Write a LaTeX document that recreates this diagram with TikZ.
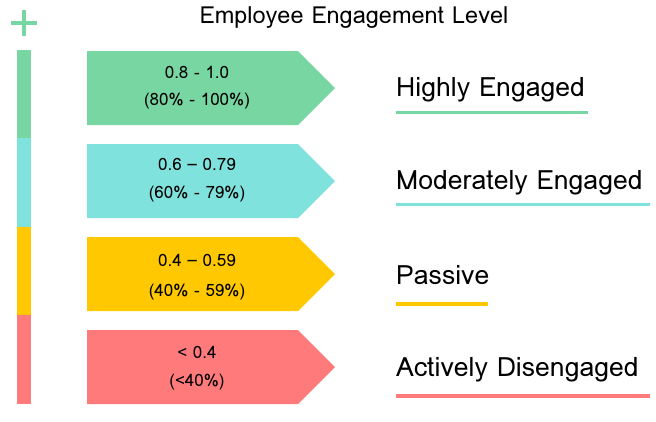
\documentclass[tikz,border=0pt]{standalone}
\usepackage{fontspec}
\setmainfont{Loma}[Script=Latin]
\definecolor{cgreen}{HTML}{78D6A3}
\definecolor{ccyan}{HTML}{80E2DD}
\definecolor{cyellow}{HTML}{FFC800}
\definecolor{cred}{HTML}{FF7B7B}
\begin{document}
\begin{tikzpicture}[x=1pt,y=-1pt,
  rng/.style={font=\fontsize{17}{20}\selectfont, align=center, inner sep=0pt},
  lbl/.style={font=\fontsize{26.6}{30}\selectfont, anchor=base west, inner sep=0pt},
  uline/.style={line width=3.5pt}]
\useasboundingbox (0,0) rectangle (656,421);
% plus
\draw[cgreen, line width=4.5pt] (11,23) -- (37,23) (24,10) -- (24,36);
% title
\node[font=\fontsize{23.5}{26}\selectfont, inner sep=0pt] (title) at (354,18) {Employee Engagement Level};
% bar
\fill[cgreen] (17,50) rectangle (31,138);
\fill[ccyan] (17,138) rectangle (31,227);
\fill[cyellow] (17,227) rectangle (31,315);
\fill[cred] (17,315) rectangle (31,404);
% arrows
\fill[cgreen] (87,51) -- (298,51) -- (335,88) -- (298,125) -- (87,125) -- cycle;
\fill[ccyan] (87,144) -- (298,144) -- (335,181) -- (298,218) -- (87,218) -- cycle;
\fill[cyellow] (87,237) -- (298,237) -- (335,274) -- (298,311) -- (87,311) -- cycle;
\fill[cred] (87,330) -- (298,330) -- (335,367) -- (298,404) -- (87,404) -- cycle;
\node[rng] (g1) at (197,72) {0.8 - 1.0};
\node[rng] (g2) at (197,101) {(80\% - 100\%)};
\node[rng] (c1) at (197,164) {0.6 – 0.79};
\node[rng] (c2) at (197,194) {(60\% - 79\%)};
\node[rng] (y1) at (197,260) {0.4 – 0.59};
\node[rng] (y2) at (197,292) {(40\% - 59\%)};
\node[rng] (r1) at (197,352) {< 0.4};
\node[rng] (r2) at (197,382) {(<40\%)};
% labels
\node[lbl] (l1) at (396,96) {Highly Engaged};
\node[lbl] (l2) at (396,189) {Moderately Engaged};
\node[lbl] (l3) at (396,284) {Passive};
\node[lbl] (l4) at (396,376) {Actively Disengaged};
\draw[uline, cgreen] (396,112.5) -- (588,112.5);
\draw[uline, ccyan] (396,204.5) -- (650,204.5);
\draw[uline, cyellow] (396,304) -- (488,304);
\draw[uline, cred] (396,396) -- (650,396);
\end{tikzpicture}
\end{document}
